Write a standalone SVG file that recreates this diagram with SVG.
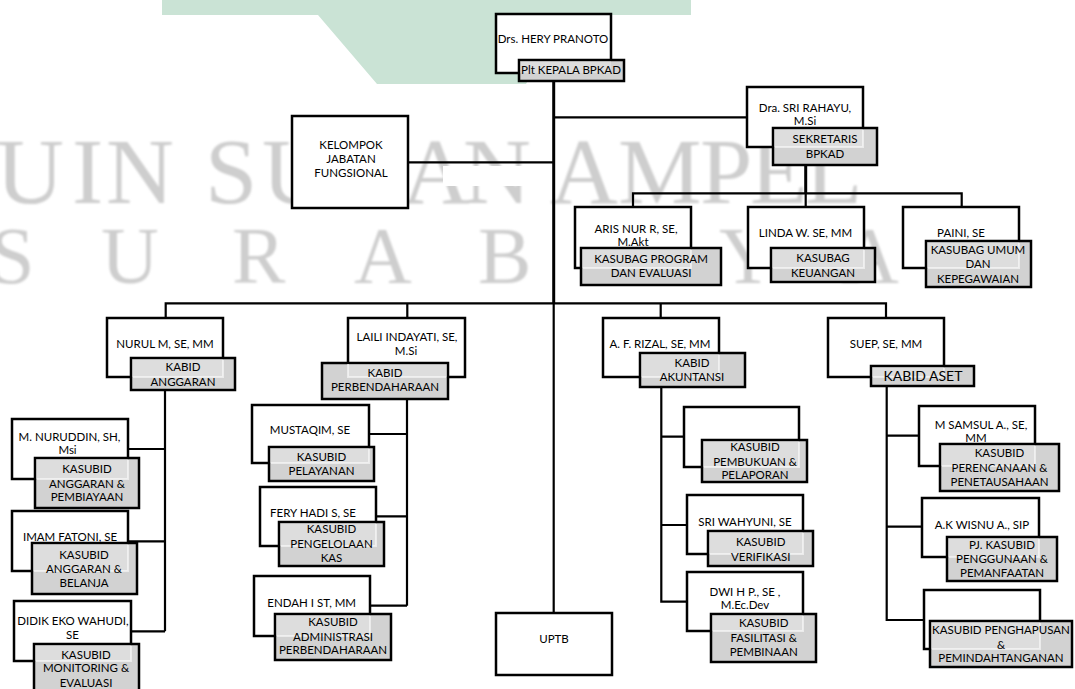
<svg xmlns="http://www.w3.org/2000/svg" width="1075" height="689" viewBox="0 0 1075 689">
<style>
.nb{fill:#fff;stroke:#000;stroke-width:2.5}
.gb{fill:#d2d2d2;stroke:#000;stroke-width:2.5}
.ov{fill:#fff;fill-opacity:.25}
.ol{fill:none;stroke:#fff;stroke-opacity:.55;stroke-width:2}
.c{fill:none;stroke:#000;stroke-width:2.2}
.ct{fill:none;stroke:#000;stroke-width:3}
text{font-family:Lato,"Open Sans",sans-serif;font-size:11.5px;fill:#000;text-anchor:middle}
text.wm{font-family:"Liberation Serif",serif;fill:#cecece;text-anchor:start}
text.w1{font-size:94px}
text.w2{font-size:80px}
text.big{font-size:14px}
</style>
<defs>
<filter id="bl" x="-5%" y="-5%" width="110%" height="110%"><feGaussianBlur stdDeviation="1.2"/></filter>
<clipPath id="cu"><rect x="250" y="100" width="42" height="120"/></clipPath>
</defs>
<rect width="1075" height="689" fill="#fff"/>
<g id="watermark">
<polygon points="162,0 691,0 691,15 567,15 526,84 377,84 318,15 162,15" fill="#cae3d5"/>
<g filter="url(#bl)">
<text class="wm w1" x="-4 72 106" y="203">UIN</text>
<text class="wm w1" x="205" y="203">S</text>
<text class="wm w1" x="262" y="203" clip-path="url(#cu)">U</text>
<text class="wm w1" x="402 463" y="203">AN</text>
<text class="wm w1" x="550 618 700 750 805" y="203">AMPEL</text>
<text class="wm w2" x="-10 101 232 354 478" y="283">SURAB</text>
<text class="wm w2" x="719" y="283">Y</text>
<text class="wm w2" x="841" y="283">A</text>
</g>
<rect x="443" y="166" width="88" height="20" fill="#fff"/>
</g>
<g id="connectors">
<path class="ct" d="M553.7,81 V303.3"/>
<path class="c" d="M553.7,303.3 V613.3"/>
<path class="c" d="M553.7,117.3 H747.3"/>
<path class="c" d="M408,162.3 H553.7"/>
<path class="ct" d="M805.7,164.7 V193.3"/>
<path class="c" d="M633,207.3 V193.3 H961.7 V207.3 M805.7,193.3 V207.3"/>
<path class="c" d="M165.7,318.3 V303.3 H886 V318.3 M407.3,303.3 V318.3 M660.7,303.3 V318.3"/>
<path class="c" d="M165,390 V631.3 M128,449 H165 M128,541.3 H165 M130.7,631.3 H165"/>
<path class="c" d="M407,399 V605.7 M369,434 H407 M376.3,516.3 H407 M369.7,605.7 H407"/>
<path class="c" d="M661.3,386.7 V601.7 H687.3 M661.3,436.7 H684 M661.3,525 H687.3"/>
<path class="c" d="M886.7,386.3 V620 H924.3 M886.7,435.7 H919 M886.7,526.7 H922.3"/>
</g>
<g id="kepala">
<rect class="nb" x="496" y="14" width="115" height="59"/>
<rect class="gb" x="519" y="60" width="105" height="21"/>
<rect class="ov" x="520" y="61" width="91" height="12"/>
<text x="553" y="43">Drs. HERY PRANOTO</text>
<text x="571" y="74.3">Plt KEPALA BPKAD</text>
</g>
<g id="kelompok">
<rect class="nb" x="292" y="116" width="116" height="92"/>
<text x="351" y="148.5">KELOMPOK</text>
<text x="351" y="162.5">JABATAN</text>
<text x="351" y="177">FUNGSIONAL</text>
</g>
<g id="sekretaris">
<rect class="nb" x="747" y="87" width="116" height="60"/>
<rect class="gb" x="773" y="128" width="104" height="37"/>
<rect class="ov" x="774" y="129" width="89" height="18"/>
<path class="ol" d="M863,130 V147 H775"/>
<text x="805" y="111.7">Dra. SRI RAHAYU,</text>
<text x="805" y="125">M.Si</text>
<text x="825" y="142.7">SEKRETARIS</text>
<text x="825" y="157.7">BPKAD</text>
</g>
<g id="aris">
<rect class="nb" x="575" y="207" width="116" height="61"/>
<rect class="gb" x="581" y="248" width="140" height="37"/>
<rect class="ov" x="582" y="249" width="109" height="19"/>
<path class="ol" d="M691,250 V268 H583"/>
<text x="636" y="233.3">ARIS NUR R, SE,</text>
<text x="633" y="245.5">M.Akt</text>
<text x="651" y="262.7">KASUBAG PROGRAM</text>
<text x="651" y="277.3">DAN EVALUASI</text>
</g>
<g id="linda">
<rect class="nb" x="748" y="207" width="116" height="61"/>
<rect class="gb" x="771" y="248" width="104" height="34"/>
<rect class="ov" x="772" y="249" width="92" height="19"/>
<path class="ol" d="M864,250 V268 H773"/>
<text x="805.5" y="237.3">LINDA W. SE, MM</text>
<text x="823" y="261.7">KASUBAG</text>
<text x="823" y="276.7">KEUANGAN</text>
</g>
<g id="paini">
<rect class="nb" x="903" y="207" width="116" height="61"/>
<rect class="gb" x="926" y="241" width="105" height="46"/>
<rect class="ov" x="927" y="242" width="92" height="26"/>
<path class="ol" d="M1019,243 V268 H928"/>
<text x="961" y="237.3">PAINI, SE</text>
<text x="978" y="254">KASUBAG UMUM</text>
<text x="978" y="267.7">DAN</text>
<text x="978" y="282.7">KEPEGAWAIAN</text>
</g>
<g id="nurul">
<rect class="nb" x="107" y="318" width="116" height="59"/>
<rect class="gb" x="131" y="358" width="104" height="32"/>
<rect class="ov" x="132" y="359" width="91" height="18"/>
<path class="ol" d="M223,360 V377 H133"/>
<text x="165" y="348">NURUL M, SE, MM</text>
<text x="183" y="370.7">KABID</text>
<text x="183" y="385.7">ANGGARAN</text>
</g>
<g id="laili">
<rect class="nb" x="348" y="318" width="117" height="59"/>
<rect class="gb" x="322" y="363" width="126" height="36"/>
<rect class="ov" x="348" y="364" width="99" height="13"/>
<path class="ol" d="M348,364 V377 H446"/>
<text x="407" y="341">LAILI INDAYATI, SE,</text>
<text x="406" y="355">M.Si</text>
<text x="385" y="377.3">KABID</text>
<text x="385" y="390.7">PERBENDAHARAAN</text>
</g>
<g id="rizal">
<rect class="nb" x="603" y="318" width="116" height="59"/>
<rect class="gb" x="640" y="353" width="105" height="34"/>
<rect class="ov" x="641" y="354" width="78" height="23"/>
<path class="ol" d="M719,355 V377 H642"/>
<text x="660" y="348">A. F. RIZAL, SE, MM</text>
<text x="692" y="366.7">KABID</text>
<text x="692" y="380.7">AKUNTANSI</text>
</g>
<g id="suep">
<rect class="nb" x="828" y="318" width="116" height="59"/>
<rect class="gb" x="871" y="366" width="103" height="20"/>
<rect class="ov" x="872" y="367" width="72" height="10"/>
<path class="ol" d="M944,368 V377 H873"/>
<text x="886" y="348">SUEP, SE, MM</text>
<text class="big" x="923" y="381">KABID ASET</text>
</g>
<g id="nuruddin">
<rect class="nb" x="12" y="419" width="116" height="60"/>
<rect class="gb" x="35" y="458" width="104" height="50"/>
<rect class="ov" x="36" y="459" width="92" height="20"/>
<path class="ol" d="M128,460 V479 H37"/>
<text x="69.5" y="440.7">M. NURUDDIN, SH,</text>
<text x="67.5" y="454">Msi</text>
<text x="87" y="473.3">KASUBID</text>
<text x="87" y="488">ANGGARAN &amp;</text>
<text x="87" y="501.3">PEMBIAYAAN</text>
</g>
<g id="imam">
<rect class="nb" x="12" y="511" width="116" height="60"/>
<rect class="gb" x="32" y="543" width="105" height="51"/>
<rect class="ov" x="33" y="544" width="95" height="27"/>
<path class="ol" d="M128,545 V571 H34"/>
<text x="70" y="541.3">IMAM FATONI, SE</text>
<text x="84" y="559">KASUBID</text>
<text x="84" y="573.3">ANGGARAN &amp;</text>
<text x="84" y="587.3">BELANJA</text>
</g>
<g id="didik">
<rect class="nb" x="14" y="601" width="117" height="60"/>
<rect class="gb" x="34" y="644" width="105" height="52"/>
<rect class="ov" x="35" y="645" width="96" height="16"/>
<path class="ol" d="M131,646 V661 H36"/>
<text x="73" y="624.7">DIDIK EKO WAHUDI,</text>
<text x="72.5" y="639">SE</text>
<text x="86" y="659">KASUBID</text>
<text x="86" y="672.3">MONITORING &amp;</text>
<text x="86" y="686.7">EVALUASI</text>
</g>
<g id="mustaqim">
<rect class="nb" x="252" y="405" width="117" height="58"/>
<rect class="gb" x="269" y="447" width="105" height="34"/>
<rect class="ov" x="270" y="448" width="99" height="15"/>
<path class="ol" d="M369,449 V463 H271"/>
<text x="310" y="434">MUSTAQIM, SE</text>
<text x="321.5" y="460.7">KASUBID</text>
<text x="321.5" y="474.7">PELAYANAN</text>
</g>
<g id="fery">
<rect class="nb" x="260" y="487" width="116" height="59"/>
<rect class="gb" x="279" y="522" width="105" height="44"/>
<rect class="ov" x="280" y="523" width="96" height="23"/>
<path class="ol" d="M376,524 V546 H281"/>
<text x="313" y="516.7">FERY HADI S, SE</text>
<text x="331.5" y="533.3">KASUBID</text>
<text x="331.5" y="548">PENGELOLAAN</text>
<text x="331.5" y="562.3">KAS</text>
</g>
<g id="endah">
<rect class="nb" x="254" y="576" width="116" height="60"/>
<rect class="gb" x="275" y="614" width="116" height="46"/>
<rect class="ov" x="276" y="615" width="94" height="21"/>
<path class="ol" d="M370,616 V636 H277"/>
<text x="311.7" y="606.7">ENDAH I ST, MM</text>
<text x="333" y="625.7">KASUBID</text>
<text x="333" y="640.7">ADMINISTRASI</text>
<text x="333" y="654">PERBENDAHARAAN</text>
</g>
<g id="uptb">
<rect class="nb" x="496" y="613" width="116" height="62"/>
<text x="554" y="643.3">UPTB</text>
</g>
<g id="pembukuan">
<rect class="nb" x="684" y="407" width="115" height="60"/>
<rect class="gb" x="702" y="440" width="105" height="42"/>
<rect class="ov" x="703" y="441" width="96" height="26"/>
<path class="ol" d="M799,442 V467 H704"/>
<text x="755" y="451.3">KASUBID</text>
<text x="755" y="465.7">PEMBUKUAN &amp;</text>
<text x="755" y="479">PELAPORAN</text>
</g>
<g id="sri">
<rect class="nb" x="687" y="495" width="116" height="59"/>
<rect class="gb" x="708" y="531" width="105" height="35"/>
<rect class="ov" x="709" y="532" width="94" height="22"/>
<path class="ol" d="M803,533 V554 H710"/>
<text x="745" y="525.7">SRI WAHYUNI, SE</text>
<text x="760.7" y="545.7">KASUBID</text>
<text x="760.7" y="560.7">VERIFIKASI</text>
</g>
<g id="dwi">
<rect class="nb" x="687" y="572" width="116" height="59"/>
<rect class="gb" x="711" y="614" width="105" height="48"/>
<rect class="ov" x="712" y="615" width="91" height="16"/>
<path class="ol" d="M803,616 V631 H713"/>
<text x="745" y="595.7">DWI H P., SE ,</text>
<text x="745" y="609">M.Ec.Dev</text>
<text x="763.7" y="626.7">KASUBID</text>
<text x="763.7" y="641.7">FASILITASI &amp;</text>
<text x="763.7" y="655.7">PEMBINAAN</text>
</g>
<g id="samsul">
<rect class="nb" x="919" y="406" width="116" height="60"/>
<rect class="gb" x="940" y="444" width="119" height="47"/>
<rect class="ov" x="941" y="445" width="94" height="21"/>
<path class="ol" d="M1035,446 V466 H942"/>
<text x="981" y="429">M SAMSUL A., SE,</text>
<text x="976" y="442.3">MM</text>
<text x="999.5" y="456.7">KASUBID</text>
<text x="999.5" y="471.7">PERENCANAAN &amp;</text>
<text x="999.5" y="485.7">PENETAUSAHAAN</text>
</g>
<g id="wisnu">
<rect class="nb" x="922" y="498" width="117" height="59"/>
<rect class="gb" x="947" y="537" width="110" height="44"/>
<rect class="ov" x="948" y="538" width="91" height="19"/>
<path class="ol" d="M1039,539 V557 H949"/>
<text x="982" y="529">A.K WISNU A., SIP</text>
<text x="1002" y="549">PJ. KASUBID</text>
<text x="1002" y="563.3">PENGGUNAAN &amp;</text>
<text x="1002" y="577.3">PEMANFAATAN</text>
</g>
<g id="penghapusan">
<rect class="nb" x="924" y="590" width="116" height="59"/>
<rect class="gb" x="930" y="621" width="142" height="46"/>
<rect class="ov" x="931" y="622" width="109" height="27"/>
<path class="ol" d="M1040,623 V649 H932"/>
<text x="1001" y="634">KASUBID PENGHAPUSAN</text>
<text x="1001" y="649">&amp;</text>
<text x="1001" y="662.3">PEMINDAHTANGANAN</text>
</g>
</svg>
